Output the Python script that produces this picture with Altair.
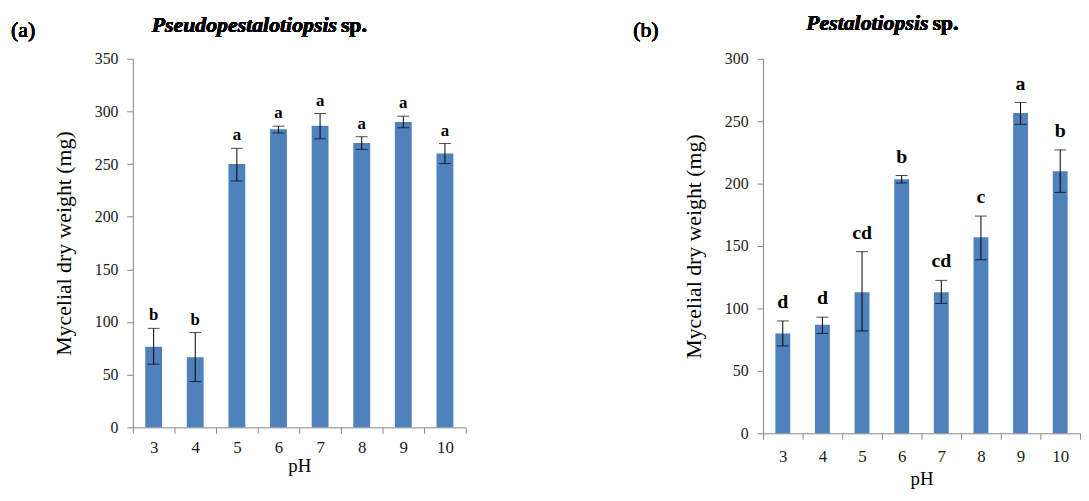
import altair as alt
import pandas as pd

ph = ["3", "4", "5", "6", "7", "8", "9", "10"]

a_mean = [76.5, 66.5, 250, 283, 286.5, 270, 290, 260]
a_lo = [60, 43.5, 234, 279.5, 274, 264, 284.5, 250.5]
a_hi = [94, 90, 265, 286, 298, 276, 295.5, 269.5]
a_letters = ["b", "b", "a", "a", "a", "a", "a", "a"]

b_mean = [80, 87, 113, 203.5, 113, 157, 256.5, 210]
b_lo = [70, 80, 82, 200.5, 104, 139, 247.5, 193]
b_hi = [90, 93, 145.5, 206.5, 122.5, 174, 265, 227]
b_letters = ["d", "d", "cd", "b", "cd", "c", "a", "b"]

SERIF = "Liberation Serif"
BLUE = "#4F81BD"


def panel(mean, lo, hi, letters, ymax, width, height, title_it,
          title_end, title_dy, tag, tag_x, tag_dy, letter_size, letter_dy,
          xlabel_pad, xtitle_pad, bar_size):
    df = pd.DataFrame({"pH": ph, "mean": mean, "lo": lo, "hi": hi, "letter": letters})
    base = alt.Chart(df)
    x = alt.X("pH:N", sort=ph, title="pH",
              scale=alt.Scale(paddingInner=0, paddingOuter=0),
              axis=alt.Axis(labelAngle=0, tickBand="extent", labelPadding=xlabel_pad,
                            labelFont=SERIF, titleFont=SERIF,
                            labelFontSize=17, titleFontSize=19,
                            titlePadding=xtitle_pad))
    yscale = alt.Scale(domain=[0, ymax])
    yaxis = alt.Axis(values=list(range(0, ymax + 1, 50)), labelPadding=9,
                     labelFont=SERIF, titleFont=SERIF,
                     labelFontSize=16, titleFontSize=22, titlePadding=19)
    ytitle = "Mycelial dry weight (mg)"

    bars = base.mark_bar(size=bar_size, color=BLUE).encode(
        x=x, y=alt.Y("mean:Q", scale=yscale, axis=yaxis, title=ytitle))
    errs = base.mark_rule(color="black", strokeWidth=1).encode(
        x=x, y=alt.Y("lo:Q", scale=yscale, axis=yaxis, title=ytitle), y2="hi:Q")
    cap_hi = base.mark_tick(color="black", size=12, thickness=1).encode(
        x=x, y=alt.Y("hi:Q", scale=yscale, axis=yaxis, title=ytitle))
    cap_lo = base.mark_tick(color="black", size=12, thickness=1).encode(
        x=x, y=alt.Y("lo:Q", scale=yscale, axis=yaxis, title=ytitle))
    lets = base.mark_text(font=SERIF, fontWeight="bold", fontSize=letter_size,
                          baseline="alphabetic", dy=letter_dy, color="black").encode(
        x=x, y=alt.Y("hi:Q", scale=yscale, axis=yaxis, title=ytitle), text="letter:N")

    t1 = alt.Chart(df).mark_text(text=title_it, font=SERIF, fontStyle="italic",
                                 fontWeight="bold", fontSize=22, align="right",
                                 baseline="middle", color="black").encode(
        x=alt.value(title_end), y=alt.value(title_dy))
    t2 = alt.Chart(df).mark_text(text="sp.", font=SERIF, fontWeight="bold",
                                 fontSize=22, align="left", baseline="middle",
                                 color="black").encode(
        x=alt.value(title_end + 4), y=alt.value(title_dy))
    tg = alt.Chart(df).mark_text(text=tag, font=SERIF, fontSize=22,
                                 fontWeight="normal", align="left",
                                 baseline="middle", color="black").encode(
        x=alt.value(tag_x), y=alt.value(tag_dy))

    return alt.layer(bars, errs, cap_hi, cap_lo, lets, t1, t2, tg).properties(
        width=width, height=height)


left = panel(a_mean, a_lo, a_hi, a_letters, 350, 336, 372, "Pseudopestalotiopsis",
             206, -34, "(a)", -123, -29, 17, -8, 6, 2, 17)
right = panel(b_mean, b_lo, b_hi, b_letters, 300, 320, 378, "Pestalotiopsis",
              167, -36, "(b)", -131, -29, 20, -13, 9, 6, 15)

chart = alt.hconcat(left, right, spacing=168).properties(
    padding={"left": 3, "top": 2, "right": 0, "bottom": 0}
).configure_view(stroke=None).configure_axis(
    domainColor="#868686", tickColor="#868686", labelFont=SERIF,
    labelColor="#1a1a1a", titleFont=SERIF,
    titleFontWeight="normal", titleColor="black", grid=False, tickSize=6)

chart.save("out.html", embed_options={"renderer": "svg", "actions": False})
